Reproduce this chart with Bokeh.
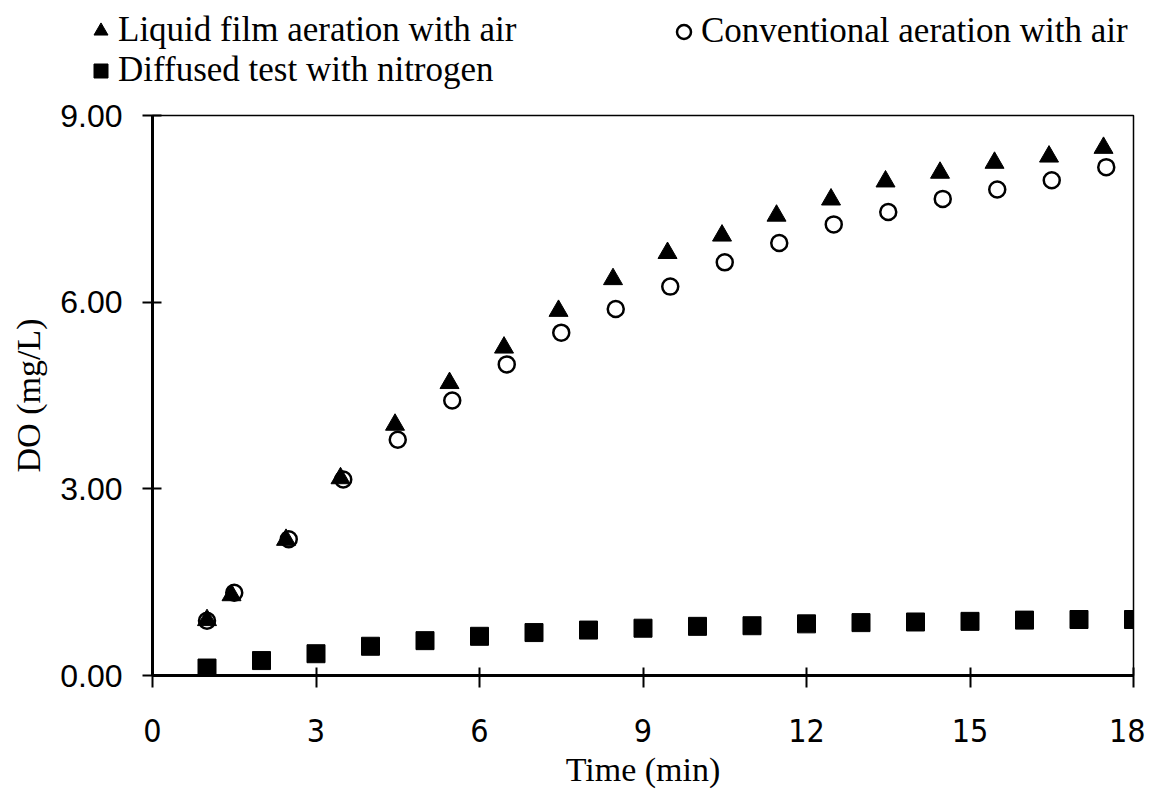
from bokeh.plotting import figure
from bokeh.models import Range1d, FixedTicker, PrintfTickFormatter, Legend, LegendItem
from bokeh.embed import file_html
from bokeh.resources import INLINE

# ---- data ----
series_names = ["Liquid film aeration with air", "Conventional aeration with air", "Diffused test with nitrogen"]

time_liquid = [1.0, 1.45, 2.45, 3.45, 4.45, 5.45, 6.45, 7.45, 8.45, 9.45,
               10.45, 11.45, 12.45, 13.45, 14.45, 15.45, 16.45, 17.45]
do_liquid = [0.89, 1.29, 2.18, 3.17, 4.03, 4.70, 5.27, 5.86, 6.37, 6.79,
             7.07, 7.39, 7.65, 7.94, 8.08, 8.24, 8.34, 8.48]

time_conv = [1.0, 1.5, 2.5, 3.5, 4.5, 5.5, 6.5, 7.5, 8.5, 9.5,
             10.5, 11.5, 12.5, 13.5, 14.5, 15.5, 16.5, 17.5]
do_conv = [0.88, 1.33, 2.19, 3.15, 3.79, 4.42, 5.00, 5.51, 5.89, 6.25,
           6.64, 6.95, 7.25, 7.45, 7.66, 7.81, 7.96, 8.17]

time_n2 = [1, 2, 3, 4, 5, 6, 7, 8, 9, 10, 11, 12, 13, 14, 15, 16, 17, 18]
do_n2 = [0.12, 0.24, 0.35, 0.47, 0.56, 0.63, 0.69, 0.73, 0.76, 0.79,
         0.80, 0.83, 0.85, 0.86, 0.87, 0.89, 0.90, 0.90]

x_ticks = [0, 3, 6, 9, 12, 15, 18]
y_ticks = [0, 3, 6, 9]
x_title = "Time (min)"
y_title = "DO (mg/L)"

W = 1145
LEG_H = 95

# ---- styles ----
tri_style = dict(marker="triangle", size=19, fill_color="black", line_color="black")
circ_style = dict(marker="circle", size=16, fill_color="white", line_color="black", line_width=2.5)
sq_style = dict(marker="square", size=18, fill_color="black", line_color="black")

# ---- main figure ----
p = figure(width=W, height=790 - LEG_H, x_range=Range1d(0, 18), y_range=Range1d(0, 9),
           output_backend="svg", toolbar_location=None,
           min_border_left=152, min_border_right=12, min_border_top=20, min_border_bottom=115)
p.grid.visible = False
p.background_fill_color = "white"
p.border_fill_color = "white"
p.outline_line_color = "black"
p.outline_line_width = 1.5

xa = p.xaxis[0]
xa.ticker = FixedTicker(ticks=x_ticks)
xa.minor_tick_line_color = None
xa.axis_line_width = 3
xa.axis_line_color = "black"
xa.major_tick_line_width = 2
xa.major_tick_in = 8
xa.major_tick_out = 12
xa.major_label_standoff = 31
xa.major_label_text_font = "'Liberation Sans Narrow', 'DejaVu Sans Condensed', 'Roboto Condensed', Roboto, sans-serif"
xa.major_label_text_font_size = "32px"
xa.major_label_text_color = "black"
xa.axis_label = x_title
xa.axis_label_text_font = "Liberation Serif"
xa.axis_label_text_font_style = "normal"
xa.axis_label_text_font_size = "34px"
xa.axis_label_text_color = "black"
xa.axis_label_standoff = 6

ya = p.yaxis[0]
ya.ticker = FixedTicker(ticks=y_ticks)
ya.formatter = PrintfTickFormatter(format="%.2f")
ya.minor_tick_line_color = None
ya.axis_line_width = 3
ya.axis_line_color = "black"
ya.major_tick_line_width = 2
ya.major_tick_in = 9
ya.major_tick_out = 10
ya.major_label_standoff = 20
ya.major_label_text_font = "Liberation Sans"
ya.major_label_text_font_size = "32px"
ya.major_label_text_color = "black"
ya.axis_label = y_title
ya.axis_label_text_font = "Liberation Serif"
ya.axis_label_text_font_style = "normal"
ya.axis_label_text_font_size = "34px"
ya.axis_label_text_color = "black"
ya.axis_label_standoff = 10

# ---- glyphs ----
p.scatter(time_n2, do_n2, **sq_style)
p.scatter(time_conv, do_conv, **circ_style)
p.scatter(time_liquid, do_liquid, **tri_style)

# ---- legend strip above the chart (its ranges keep the series out of view) ----
lg = figure(width=W, height=LEG_H, x_range=Range1d(-100, -99), y_range=Range1d(-100, -99),
            output_backend="svg", toolbar_location=None,
            x_axis_location=None, y_axis_location=None, min_border=0)
lg.grid.visible = False
lg.outline_line_color = None
lg.background_fill_color = "white"
lg.border_fill_color = "white"
k_liq = lg.scatter(time_liquid, do_liquid, **tri_style)
k_conv = lg.scatter(time_conv, do_conv, **circ_style)
k_n2 = lg.scatter(time_n2, do_n2, **sq_style)

common = dict(glyph_width=35, glyph_height=35, label_standoff=0, padding=0, margin=0,
              spacing=0, border_line_color=None, background_fill_alpha=0,
              label_text_font="Liberation Serif", label_text_font_size="35px",
              label_text_color="black")
leg1 = Legend(items=[LegendItem(label=series_names[0], renderers=[k_liq]),
                     LegendItem(label=series_names[2], renderers=[k_n2])],
              location=(83, 5), **common)
leg2 = Legend(items=[LegendItem(label=series_names[1], renderers=[k_conv])],
              location=(666, 44), **common)
lg.add_layout(leg1)
lg.add_layout(leg2)

open("out.html", "w").write(file_html([lg, p], INLINE))
